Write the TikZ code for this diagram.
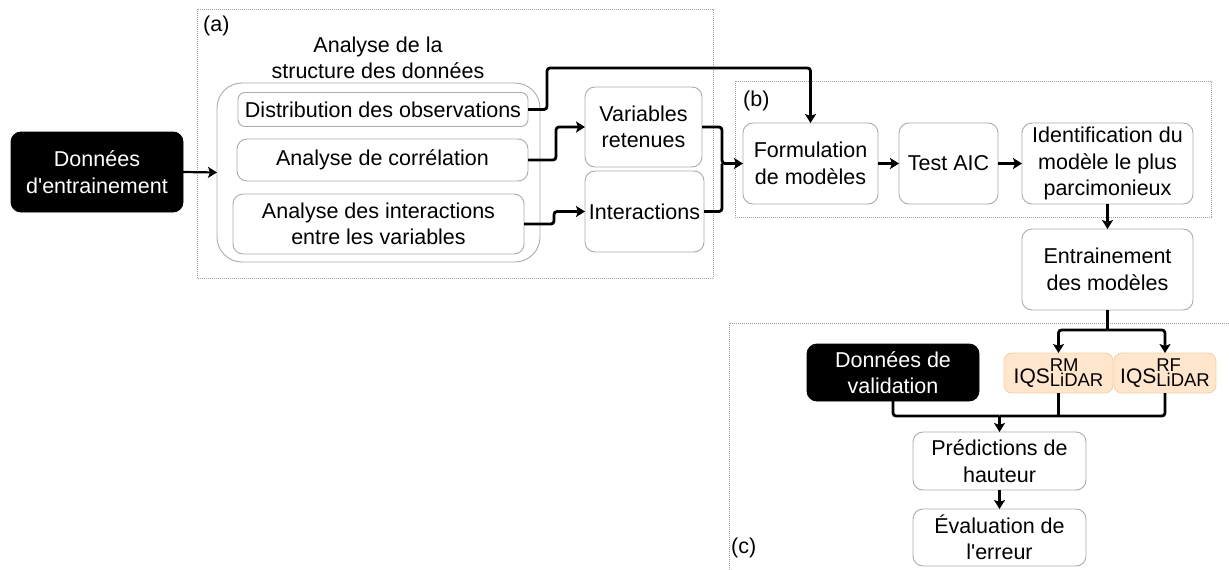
\documentclass[tikz,border=0pt]{standalone}
\usepackage{fontspec}
\setmainfont{Liberation Sans}
\usetikzlibrary{arrows.meta,calc}
\definecolor{boxgray}{HTML}{ABABAB}
\definecolor{regiongray}{HTML}{A0A0A0}
\definecolor{orfill}{HTML}{FFE6CC}
\definecolor{ordraw}{HTML}{F3D2A6}
\newcommand{\mainfs}{\fontsize{21.5}{26.5}\selectfont}
\newcommand{\iqslabel}[1]{IQS\rlap{\raisebox{11.5pt}{\fontsize{18.5}{18}\selectfont #1}}\raisebox{-3.5pt}{\fontsize{18.5}{18}\selectfont LiDAR}}
\begin{document}
\begin{tikzpicture}[x=1pt,y=-1pt,
  box/.style={draw=boxgray, line width=0.9pt, rounded corners=10pt, fill=white,
    inner sep=0pt, outer sep=0pt, align=center, font=\mainfs, text=black},
  blk/.style={box, draw=black, fill=black, text=white},
  orb/.style={box, draw=ordraw, fill=orfill, rounded corners=8pt, font=\fontsize{21}{24}\selectfont},
  region/.style={draw=regiongray, line width=0.7pt, dash pattern=on 0.8pt off 1.2pt},
  lbl/.style={inner sep=0pt, anchor=base west, font=\mainfs},
  connline/.style={line width=2.8pt, rounded corners=3pt},
  conn/.style={connline, -{Stealth[length=9pt,width=11pt,inset=2pt]}}
]
\useasboundingbox (0,0) rectangle (1229,570);

% regions
\draw[region] (197,9) rectangle (713,278);
\node[lbl] (la) at (203,31) {(a)};
\draw[region] (735,81) rectangle (1211,217);
\node[lbl] (lb) at (743,106) {(b)};
\draw[region] (1229,323) -- (729,323) -- (729,570);
\node[lbl] (lc) at (731,553) {(c)};

% (a) content
\node[box, minimum width=323pt, minimum height=179pt, rounded corners=25pt] (group) at (378.5,172.5) {};
\node[inner sep=0pt, align=center, font=\mainfs] (title) at (378,58) {Analyse de la\\structure des données};
\node[box, minimum width=290pt, minimum height=34pt, rounded corners=7pt] (dist) at (383,109.5) {Distribution des observations};
\node[box, minimum width=291pt, minimum height=42pt] (corr) at (382.5,160) {Analyse de corrélation};
\node[box, minimum width=291pt, minimum height=60pt] (inter) at (378.5,224) {Analyse des interactions\\entre les variables};
\node[box, minimum width=117pt, minimum height=80pt] (vars) at (643.5,127) {Variables\\retenues};
\node[box, minimum width=119pt, minimum height=81pt] (interac) at (644.5,211.5) {Interactions};

\node[blk, minimum width=172pt, minimum height=80pt] (train) at (97,172) {Données\\d\textquotesingle entrainement};

% (b) content
\node[box, minimum width=135pt, minimum height=81pt] (form) at (810.5,163.5) {Formulation\\de modèles};
\node[box, minimum width=99pt, minimum height=81pt] (aic) at (948.5,163.5) {Test AIC};
\node[box, minimum width=171pt, minimum height=81pt] (ident) at (1107.5,163.5) {Identification du\\modèle le plus\\parcimonieux};
\node[box, minimum width=171pt, minimum height=81pt] (ent) at (1107.5,269.5) {Entrainement\\des modèles};

% (c) content
\node[blk, minimum width=172pt, minimum height=57pt] (valid) at (893,372.5) {Données de\\validation};
\node[orb, minimum width=109pt, minimum height=40pt] (rm) at (1058.5,373) {\iqslabel{RM}};
\node[orb, minimum width=102pt, minimum height=40pt] (rf) at (1165,373) {\iqslabel{RF}};
\node[box, minimum width=173pt, minimum height=58pt] (pred) at (999.5,461) {Prédictions de\\hauteur};
\node[box, minimum width=173pt, minimum height=57pt] (eval) at (999.5,537.5) {Évaluation de\\l\textquotesingle erreur};

% connectors
\coordinate (topr) at (547,68);
\coordinate (mrg) at (722,163.5);
\coordinate (sp) at (1107.5,330);
\coordinate (jb) at (999.5,416);

\draw[conn, line width=2.2pt] (train.east) -- (group.west);
\draw[conn] (dist.east) -| (topr) -| (form.north);
\draw[conn] (corr.east) -- ++(28,0) |- (vars.west);
\draw[conn] (inter.east) -- ++(30,0) |- (interac.west);
\draw[conn] (vars.east) -| (mrg) -- (form.west);
\draw[connline] (interac.east) -| (mrg);
\draw[conn] (form.east) -- (aic.west);
\draw[conn] (aic.east) -- (ident.west);
\draw[conn] (ident.south) -- (ent.north);
\draw[connline] (ent.south) -- (sp);
\draw[conn] (sp) -| (rm.north);
\draw[conn] (sp) -| (rf.north);
\draw[connline] (valid.south) |- (jb);
\draw[connline] (rf.south) |- (jb);
\draw[connline] (rm.south) -- (rm.south |- jb);
\draw[conn] (jb) -- (pred.north);
\draw[conn] (pred.south) -- (eval.north);
\end{tikzpicture}
\end{document}
